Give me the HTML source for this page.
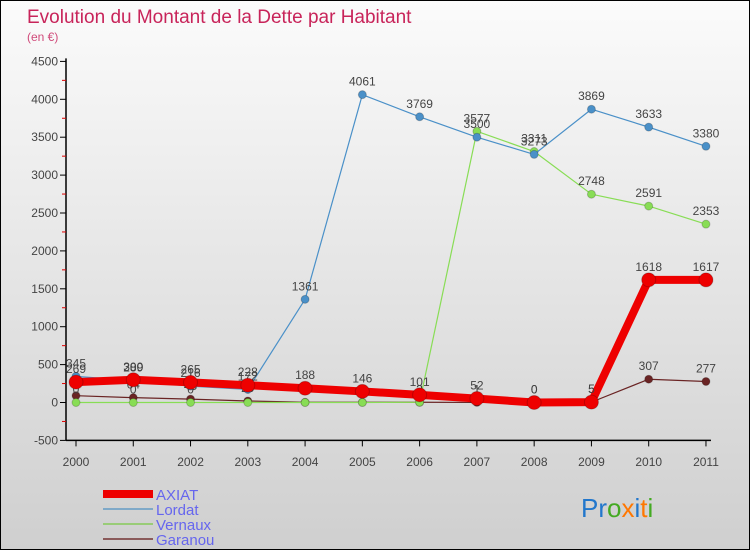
<!DOCTYPE html>
<html><head><meta charset="utf-8"><style>
body{margin:0}
#c{width:750px;height:550px;position:relative;box-sizing:border-box;border:1px solid #000;background:linear-gradient(#fbfbfb,#cfcfcf);font-family:"Liberation Sans",sans-serif;overflow:hidden}
</style></head><body>
<div id="c">
<svg id="s" width="750" height="550" style="position:absolute;left:0;top:0">
<text x="26" y="22" font-size="19" fill="#c8245a">Evolution du Montant de la Dette par Habitant</text>
<text x="26" y="40" font-size="12" fill="#d04a7a">(en €)</text>
<g id="g"></g>
<g>
<rect x="102" y="489" width="50" height="8" fill="#e00"/>
<text x="155" y="499" font-size="15" fill="#6666ee">AXIAT</text>
<rect x="102" y="507" width="50" height="2" fill="#7fa9c8"/>
<text x="155" y="514" font-size="15" fill="#6666ee">Lordat</text>
<rect x="102" y="522" width="50" height="2" fill="#99cc77"/>
<text x="155" y="529" font-size="15" fill="#6666ee">Vernaux</text>
<rect x="102" y="537" width="50" height="2" fill="#8a5a5a"/>
<text x="155" y="544" font-size="15" fill="#6666ee">Garanou</text>
</g>
<text x="580" y="516" font-size="26"><tspan fill="#2277cc">Pr</tspan><tspan fill="#44aa22">o</tspan><tspan fill="#ff7700">x</tspan><tspan fill="#2277cc">i</tspan><tspan fill="#ff7700">t</tspan><tspan fill="#44aa22">i</tspan></text>
</svg></div>
<script>
const years=[2000,2001,2002,2003,2004,2005,2006,2007,2008,2009,2010,2011];
const yTicks=[-500,0,500,1000,1500,2000,2500,3000,3500,4000,4500];
const axiat=[269,300,265,228,188,146,101,52,0,5,1618,1617];
const lordat=[345,289,216,172,1361,4061,3769,3500,3273,3869,3633,3380];
const vernaux=[0,0,0,0,0,0,3,3577,3311,2748,2591,2353];
const garanou=[90,64,45,20,3,3,3,1,0,5,307,277];
const X=i=>75+i*57.27, Y=v=>401.5-v*0.0758;
const g=document.getElementById('g'),NS='http://www.w3.org/2000/svg';
function mk(t,a,p){const e=document.createElementNS(NS,t);for(const k in a)e.setAttribute(k,a[k]);(p||g).appendChild(e);return e;}
let e=mk('line',{x1:65,y1:Y(4500)-3,x2:65,y2:Y(-500),stroke:'#000','stroke-width':1.5});


e=mk('line',{x1:65,y1:Y(-500),x2:X(11)+5,y2:Y(-500),stroke:'#000','stroke-width':1.5});


yTicks.forEach((v,i)=>{mk('line',{x1:59,x2:65,y1:Y(v),y2:Y(v),stroke:'#000'});
if(i<yTicks.length-1)mk('line',{x1:61,x2:65,y1:Y(v+250),y2:Y(v+250),stroke:'#d00'});
e=mk('text',{x:57,y:Y(v)+4,'text-anchor':'end','font-size':12,fill:'#444'});e.textContent=v;

});
years.forEach((y,i)=>{mk('line',{x1:X(i),x2:X(i),y1:Y(-500),y2:Y(-500)+6,stroke:'#000'});
e=mk('text',{x:X(i),y:465,'text-anchor':'middle','font-size':12,fill:'#444'});e.textContent=y;

});
function series(d,col,w,r,name,lab){
const p=d.map((v,i)=>X(i)+','+Y(v)).join(' ');
e=mk('polyline',{points:p,fill:'none',stroke:col,'stroke-width':w,'stroke-linejoin':'round'});


d.forEach((v,i)=>{e=mk('circle',{cx:X(i),cy:Y(v),r:r,fill:col,stroke:'rgba(0,0,0,0.2)'});


if(lab){e=mk('text',{x:X(i),y:Y(v)-9,'text-anchor':'middle','font-size':12,fill:'#444'});e.textContent=v;

}});}
series(garanou,'#6a2424',1.2,4,'garanou',true);
series(vernaux,'#88dd55',1.2,4,'vernaux',true);
series(lordat,'#4a90c8',1.2,4,'lordat',true);
series(axiat,'#ee0000',8,7,'axiat',true);
</script>
</body></html>
